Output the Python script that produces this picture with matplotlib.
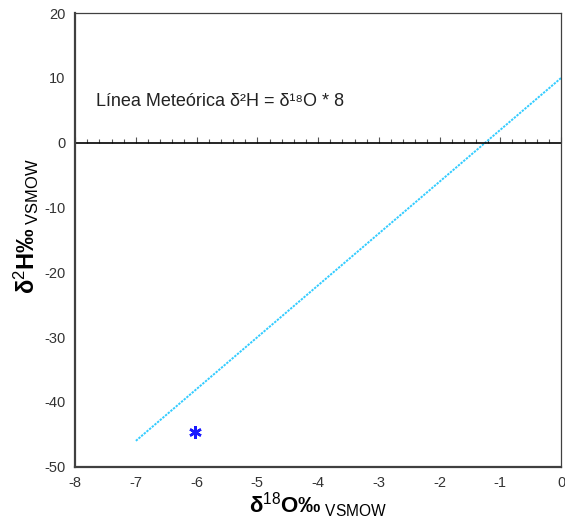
import numpy as np
import matplotlib.pyplot as plt
from matplotlib.ticker import MultipleLocator

plt.rcParams['font.family'] = ['Liberation Sans', 'DejaVu Sans']
plt.rcParams['mathtext.fontset'] = 'custom'
plt.rcParams['mathtext.rm'] = 'Liberation Sans'
plt.rcParams['mathtext.bf'] = 'Liberation Sans:bold'
plt.rcParams['mathtext.it'] = 'Liberation Sans:italic'
plt.rcParams['axes.unicode_minus'] = False

# meteoric water line d2H = 8*d18O + 10
lmm_x = [-7, 0]
lmm_y = [-46, 10]

# sample
muestra_x = [-6.03]
muestra_y = [-44.6]

fig = plt.figure(figsize=(5.65, 5.28), dpi=100)
ax = fig.add_axes([0.133, 0.116, 0.860, 0.859])

ax.plot(lmm_x, lmm_y, color='#33ccff', linestyle=(0, (1.2, 0.6)), linewidth=1.4)
ax.plot(muestra_x, muestra_y, linestyle='none', marker=(6, 2, 0), color='#1a1aff',
        markersize=9, markeredgewidth=1.8)

ax.set_xlim(-8, 0)
ax.set_ylim(-50, 20)
ax.xaxis.set_major_locator(MultipleLocator(1))
ax.yaxis.set_major_locator(MultipleLocator(10))
ax.tick_params(length=0, labelsize=10.5, labelcolor='#333333', pad=7)

for s in ['left', 'bottom']:
    ax.spines[s].set_linewidth(1.6)
    ax.spines[s].set_color('#404040')
for s in ['top', 'right']:
    ax.spines[s].set_linewidth(0.9)
    ax.spines[s].set_color('#404040')

# zero line with small ticks
ax.axhline(0, color='black', linewidth=1.2)
sec = ax.secondary_xaxis(50 / 70)
sec.spines['top'].set_visible(False)
sec.spines['bottom'].set_visible(False)
sec.xaxis.set_major_locator(MultipleLocator(1))
sec.xaxis.set_minor_locator(MultipleLocator(0.2))
sec.tick_params(which='both', direction='out', top=True, bottom=False,
                labeltop=False, labelbottom=False, color='#555555')
sec.tick_params(which='major', length=4, width=0.8)
sec.tick_params(which='minor', length=3, width=0.8)

ax.text(-7.65, 6.4, 'Línea Meteórica δ²H = δ¹⁸O * 8', fontsize=13, color='#222222',
        va='center', ha='left')

ax.set_xlabel(r'$\mathbf{δ}^{18}\mathbf{O‰}_{\ \mathrm{VSMOW}}$', fontsize=16, labelpad=0)
ax.set_ylabel(r'$\mathbf{δ}^{2}\mathbf{H‰}_{\ \mathrm{VSMOW}}$', fontsize=17)
ax.yaxis.set_label_coords(-0.07, 0.53)

fig.savefig('out.png', dpi=100)
